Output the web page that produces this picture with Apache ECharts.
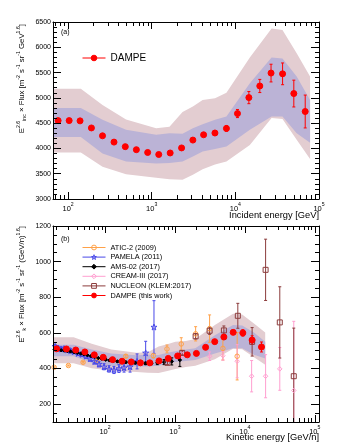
<!DOCTYPE html>
<html>
<head>
<meta charset="utf-8">
<title>DAMPE helium</title>
<script src="https://cdn.jsdelivr.net/npm/echarts@6.0.0/dist/echarts.min.js"></script>
<style>
  html, body { margin: 0; padding: 0; background: #fff; }
  #main { width: 355px; height: 445px; }
</style>
</head>
<body>
<div id="main"></div>
<script>
// ---------- panel (a): E_inc^2.6 x flux vs incident energy ----------
let aEnergy = [76, 103, 139, 190, 258, 354, 483, 655, 894, 1213, 1661, 2275, 3104, 4170, 5700, 7820, 10600, 14500, 19600, 26700, 36700, 50000, 68400]
let aFlux   = [4550, 4550, 4545, 4405, 4250, 4125, 4035, 3975, 3920, 3880, 3910, 4010, 4165, 4270, 4305, 4395, 4690, 5005, 5235, 5490, 5475, 5085, 4730]
let aStat   = [10, 10, 10, 10, 10, 10, 12, 12, 14, 16, 18, 22, 26, 32, 40, 55, 80, 120, 130, 175, 215, 265, 325]

// systematic bands (outer = total, inner = w/o hadronic model)
let aBandE   = [66, 142, 258, 493, 1130, 1630, 2335, 3105, 4060, 5710, 7820, 14900, 27100, 36600, 54100, 78200]
let aOuterHi = [5180, 5180, 4860, 4570, 4400, 4430, 4720, 4830, 4960, 4990, 5100, 5800, 6370, 6340, 5880, 5420]
let aOuterLo = [3920, 3920, 3640, 3490, 3420, 3390, 3380, 3480, 3590, 3680, 3740, 4070, 4600, 4580, 4170, 3790]
let aInnerHi = [4800, 4800, 4565, 4370, 4270, 4300, 4290, 4400, 4480, 4565, 4630, 5290, 5800, 5780, 5420, 4960]
let aInnerLo = [4225, 4225, 3900, 3740, 3700, 3710, 3740, 3840, 3940, 3990, 4040, 4370, 4630, 4630, 4300, 4110]

// ---------- panel (b): E_k^2.6 x flux vs kinetic energy per nucleon ----------
let bEnergy = [20.3, 28.0, 38.1, 51.4, 70.1, 94.2, 128, 175, 237, 321, 437, 591, 802, 1093, 1500, 2027, 2746, 3706, 5012, 6808, 9354, 12700, 17300]
let bFlux   = [511, 510, 504, 493, 477, 463, 450, 441, 437, 432, 432, 443, 457, 471, 477, 485, 519, 551, 577, 603, 600, 560, 521]
let bStat   = [1, 1, 1, 1, 1, 1, 1, 1, 1, 2, 2, 2, 3, 3, 4, 5, 6, 8, 10, 12, 18, 24, 28]

let bBandE   = [18, 35.5, 64.5, 123, 283, 408, 584, 776, 1015, 1428, 1955, 3725, 6775, 9150, 13500, 19550]
let bOuterHi = [575, 575, 539, 507, 488, 492, 524, 536, 551, 554, 566, 644, 707, 704, 653, 602]
let bOuterLo = [430, 430, 402, 387, 380, 376, 375, 386, 398, 408, 415, 452, 511, 508, 463, 421]
let bInnerHi = [533, 533, 507, 485, 474, 477, 476, 488, 497, 507, 514, 587, 644, 642, 602, 551]
let bInnerLo = [469, 469, 433, 415, 411, 412, 415, 426, 437, 443, 448, 485, 514, 514, 477, 456]

let aticE   = [18.7, 29.9, 48.5, 77.6, 198, 490, 769, 1230, 1976, 3130, 4850, 7760]
let aticF   = [407, 417, 435, 446, 469, 472, 510, 538, 595, 624, 513, 469]
let aticErr = [3, 3, 4, 5, 8, 12, 22, 35, 40, 77, 65, 133]

let pamE   = [19.3, 21.3, 23.5, 25.9, 28.7, 32.1, 36.1, 41.1, 46.9, 53.5, 61.1, 70.8, 82.1, 96.8, 114, 134, 158, 187, 228, 287, 381, 501]
let pamF   = [525, 515, 510, 512, 505, 500, 495, 485, 480, 470, 455, 440, 425, 410, 398, 392, 400, 405, 410, 440, 488, 633]
let pamErr = [10, 10, 10, 10, 11, 11, 12, 12, 13, 13, 14, 15, 16, 17, 18, 20, 22, 25, 30, 42, 65, 148]

let amsE   = [19, 21, 23.5, 26, 29, 32, 36, 40, 45, 50, 56, 63, 71, 80, 90, 102, 116, 132, 150, 172, 198, 230, 270, 320, 380, 460, 560, 700, 900, 1175]
let amsF   = [508, 506, 503, 501, 498, 496, 492, 488, 484, 480, 475, 470, 465, 459, 455, 450, 446, 443, 440, 438, 436, 434, 432, 430, 429, 430, 432, 436, 440, 448]
let amsErr = [3, 3, 3, 3, 3, 3, 3, 3, 3, 3, 3, 3, 3, 3, 3, 4, 4, 4, 4, 5, 5, 5, 6, 6, 7, 8, 10, 14, 20, 36]

let creamE   = [1271, 3130, 4850, 7760, 12500, 19800, 31600, 50100]
let creamF   = [478, 469, 472, 441, 357, 357, 398, 277]
let creamErr = [20, 24, 25, 93, 88, 121, 120, 388]

let nucE   = [782, 1271, 1976, 3130, 5012, 7930, 12700, 19800, 31600, 50100]
let nucF   = [432, 488, 581, 612, 614, 696, 550, 954, 659, 357]
let nucErr = [10, 12, 15, 20, 25, 70, 80, 172, 200, 270]

// axis ticks
let aXMajor = [100, 1000, 10000, 100000]
let bXMajor = [100, 1000, 10000, 100000]
let aYMajor = [3000, 3500, 4000, 4500, 5000, 5500, 6000, 6500]
let bYMajor = [200, 400, 600, 800, 1000, 1200]

const FONT = '"Liberation Sans", Arial, Helvetica, sans-serif'
const OUTER = '#e3cdd1'
const INNER = '#bbb3d6'

let minorLog = function (lo, hi) {
  let out = []
  for (let d = 1; d <= 1e5; d *= 10) {
    for (let k = 2; k <= 9; k++) {
      if (k * d > lo && k * d < hi) out.push(k * d)
    }
  }
  return out
}
let minorLin = function (lo, hi, step, majorStep) {
  let out = []
  for (let v = lo; v < hi; v += step) {
    if (v > lo && v % majorStep !== 0) out.push(v)
  }
  return out
}

let zip3 = function (x, y, z) {
  return x.map(function (v, i) { return [v, y[i], z[i]] })
}

let supRich = {
  b: { fontSize: 7.5, fontFamily: FONT, color: '#000', lineHeight: 11, verticalAlign: 'bottom' },
  s: { fontSize: 5.2, fontFamily: FONT, color: '#000', lineHeight: 7, verticalAlign: 'top' }
}

// builds the four x axes (bottom / top, major / minor) of one frame
let xAxes = function (grid, min, max, major) {
  let base = { gridIndex: grid, type: 'log', min: min, max: max, splitLine: { show: false }, z: 5 }
  let minor = minorLog(min, max)
  return [
    Object.assign({}, base, {
      position: 'bottom',
      axisLine: { show: true, lineStyle: { color: '#000', width: 1 } },
      axisTick: { show: true, inside: true, length: 7, customValues: major, lineStyle: { color: '#000' } },
      axisLabel: {
        customValues: major, margin: 3,
        formatter: function (v) { return '{b|10}{s|' + Math.round(Math.log10(v)) + '}' },
        rich: supRich
      }
    }),
    Object.assign({}, base, {
      position: 'bottom',
      axisLine: { show: false },
      axisTick: { show: true, inside: true, length: 4, customValues: minor, lineStyle: { color: '#000' } },
      axisLabel: { show: false }
    }),
    Object.assign({}, base, {
      position: 'top',
      axisLine: { show: true, lineStyle: { color: '#000', width: 1 } },
      axisTick: { show: true, inside: true, length: 7, customValues: major, lineStyle: { color: '#000' } },
      axisLabel: { show: false }
    }),
    Object.assign({}, base, {
      position: 'top',
      axisLine: { show: false },
      axisTick: { show: true, inside: true, length: 4, customValues: minor, lineStyle: { color: '#000' } },
      axisLabel: { show: false }
    })
  ]
}

let yAxes = function (grid, min, max, major, minor) {
  let base = { gridIndex: grid, type: 'value', min: min, max: max, splitLine: { show: false }, z: 5 }
  return [
    Object.assign({}, base, {
      position: 'left',
      axisLine: { show: true, lineStyle: { color: '#000', width: 1 } },
      axisTick: { show: true, inside: true, length: 8, customValues: major, lineStyle: { color: '#000' } },
      axisLabel: {
        customValues: major, margin: 2, fontSize: 7, fontFamily: FONT, color: '#000',
        formatter: function (v) { return String(v) }
      }
    }),
    Object.assign({}, base, {
      position: 'left',
      axisLine: { show: false },
      axisTick: { show: true, inside: true, length: 4, customValues: minor, lineStyle: { color: '#000' } },
      axisLabel: { show: false }
    }),
    Object.assign({}, base, {
      position: 'right',
      axisLine: { show: true, lineStyle: { color: '#000', width: 1 } },
      axisTick: { show: true, inside: true, length: 8, customValues: major, lineStyle: { color: '#000' } },
      axisLabel: { show: false }
    }),
    Object.assign({}, base, {
      position: 'right',
      axisLine: { show: false },
      axisTick: { show: true, inside: true, length: 4, customValues: minor, lineStyle: { color: '#000' } },
      axisLabel: { show: false }
    })
  ]
}

// one polygon for a band: upper edge, then lower edge backwards
let bandRender = function (color) {
  return function (params, api) {
    if (params.dataIndexInside !== 0) return null
    let up = [], dn = []
    for (let i = 0; i < params.dataInsideLength; i++) {
      up.push(api.coord([api.value(0, i), api.value(1, i)]))
      dn.push(api.coord([api.value(0, i), api.value(2, i)]))
    }
    return { type: 'polygon', shape: { points: up.concat(dn.reverse()) }, style: { fill: color } }
  }
}

let errRender = function (color) {
  return function (params, api) {
    let x = api.value(0), y = api.value(1), e = api.value(2)
    let hi = api.coord([x, y + e])
    let lo = api.coord([x, y - e])
    let c = 1.5
    let st = { stroke: color, lineWidth: 1 }
    return {
      type: 'group',
      children: [
        { type: 'line', shape: { x1: hi[0], y1: hi[1], x2: lo[0], y2: lo[1] }, style: st },
        { type: 'line', shape: { x1: hi[0] - c, y1: hi[1], x2: hi[0] + c, y2: hi[1] }, style: st },
        { type: 'line', shape: { x1: lo[0] - c, y1: lo[1], x2: lo[0] + c, y2: lo[1] }, style: st }
      ]
    }
  }
}

let band = function (xi, yi, e, hi, lo, color) {
  return {
    type: 'custom', xAxisIndex: xi, yAxisIndex: yi, silent: true,
    data: zip3(e, hi, lo), encode: { x: 0, y: 1 },
    renderItem: bandRender(color), clip: true
  }
}
let errs = function (xi, yi, e, v, err, color) {
  return {
    type: 'custom', xAxisIndex: xi, yAxisIndex: yi, silent: true,
    data: zip3(e, v, err), encode: { x: 0, y: 1 },
    renderItem: errRender(color), clip: true
  }
}
let points = function (name, xi, yi, e, v, symbol, size, color, fill) {
  return {
    name: name, type: 'line', xAxisIndex: xi, yAxisIndex: yi,
    data: e.map(function (x, i) { return [x, v[i]] }),
    symbol: symbol, symbolSize: size, showSymbol: true,
    lineStyle: { width: 0, color: color },
    itemStyle: { color: fill, borderColor: color, borderWidth: 1 },
    emphasis: { disabled: true },
    clip: true
  }
}

const STAR = 'path://M50,2 L61,36 L97,36 L68,57 L79,92 L50,71 L21,92 L32,57 L3,36 L39,36 Z'
const NONE = 'rgba(255,255,255,0)'

let dom = document.getElementById('main')
let myChart = echarts.init(dom)

let titleRich = {
  sup: { fontSize: 5.2, fontFamily: FONT, fill: '#000', verticalAlign: 'top', lineHeight: 5 },
  sub: { fontSize: 5.2, fontFamily: FONT, fill: '#000', verticalAlign: 'bottom', lineHeight: 5 },
  t: { fontSize: 7.8, fontFamily: FONT, fill: '#000', lineHeight: 11 }
}

let option = {
  animation: false,
  textStyle: { fontFamily: FONT },
  grid: [
    { left: 53, top: 22, width: 266, height: 177 },
    { left: 53, top: 226, width: 266, height: 196 }
  ],
  xAxis: xAxes(0, 66, 100000, aXMajor).concat(xAxes(1, 18, 115000, bXMajor)),
  yAxis: yAxes(0, 3000, 6500, aYMajor, minorLin(3000, 6500, 100, 500))
    .concat(yAxes(1, 100, 1200, bYMajor, minorLin(100, 1200, 50, 200))),
  legend: [
    {
      data: ['DAMPE'], left: 77, top: 48, itemWidth: 23, itemHeight: 7,
      lineStyle: { width: 1 }, itemStyle: { borderWidth: 1 },
      textStyle: { fontSize: 10, fontFamily: FONT, color: '#000' }, selectedMode: false
    },
    {
      data: ['ATIC-2 (2009)', 'PAMELA (2011)', 'AMS-02 (2017)', 'CREAM-III (2017)', 'NUCLEON (KLEM:2017)', 'DAMPE (this work)'],
      orient: 'vertical', left: 77, top: 239, itemWidth: 23, itemHeight: 6, itemGap: 2.6,
      lineStyle: { width: 1 }, itemStyle: { borderWidth: 1 },
      textStyle: { fontSize: 7.3, fontFamily: FONT, color: '#000' }, selectedMode: false
    }
  ],
  graphic: [
    { type: 'text', left: 61, top: 29, style: { text: '(a)', font: '7px ' + FONT, fill: '#000' } },
    { type: 'text', left: 61, top: 236, style: { text: '(b)', font: '7px ' + FONT, fill: '#000' } },
    { type: 'text', right: 36, top: 211, style: { text: 'Incident energy [GeV]', font: '9.3px ' + FONT, fill: '#000' } },
    { type: 'text', right: 36, top: 433, style: { text: 'Kinetic energy [GeV/n]', font: '9.3px ' + FONT, fill: '#000' } },
    {
      type: 'text', x: 22, y: 24, rotation: Math.PI / 2,
      style: {
        text: '{t|E}{sup|2.6}{sub|inc}{t| × Flux [m}{sup|-2}{t| s}{sup|-1}{t| sr}{sup|-1}{t| GeV}{sup|1.6}{t|]}',
        rich: titleRich, align: 'right', verticalAlign: 'middle'
      }
    },
    {
      type: 'text', x: 22, y: 226, rotation: Math.PI / 2,
      style: {
        text: '{t|E}{sup|2.6}{sub|k}{t| × Flux [m}{sup|-2}{t| s}{sup|-1}{t| sr}{sup|-1}{t| (GeV/n)}{sup|1.6}{t|]}',
        rich: titleRich, align: 'right', verticalAlign: 'middle'
      }
    }
  ],
  series: [
    band(0, 0, aBandE, aOuterHi, aOuterLo, OUTER),
    band(0, 0, aBandE, aInnerHi, aInnerLo, INNER),
    errs(0, 0, aEnergy, aFlux, aStat, '#ff0000'),
    points('DAMPE', 0, 0, aEnergy, aFlux, 'circle', 6, '#ff0000', '#ff0000'),

    band(4, 4, bBandE, bOuterHi, bOuterLo, OUTER),
    band(4, 4, bBandE, bInnerHi, bInnerLo, INNER),
    errs(4, 4, aticE, aticF, aticErr, '#ffa148'),
    points('ATIC-2 (2009)', 4, 4, aticE, aticF, 'circle', 4.5, '#ffa148', NONE),
    errs(4, 4, pamE, pamF, pamErr, '#4848e8'),
    points('PAMELA (2011)', 4, 4, pamE, pamF, STAR, 6, '#4848e8', NONE),
    errs(4, 4, amsE, amsF, amsErr, '#000000'),
    points('AMS-02 (2017)', 4, 4, amsE, amsF, 'diamond', 3.5, '#000000', '#000000'),
    errs(4, 4, creamE, creamF, creamErr, '#ff9fd0'),
    points('CREAM-III (2017)', 4, 4, creamE, creamF, 'diamond', 4.5, '#ff9fd0', NONE),
    errs(4, 4, nucE, nucF, nucErr, '#8c3c3c'),
    points('NUCLEON (KLEM:2017)', 4, 4, nucE, nucF, 'rect', 5, '#8c3c3c', NONE),
    errs(4, 4, bEnergy, bFlux, bStat, '#ff0000'),
    points('DAMPE (this work)', 4, 4, bEnergy, bFlux, 'circle', 6, '#ff0000', '#ff0000')
  ]
}

myChart.setOption(option, true)

window.addEventListener('resize', function () {
  myChart.resize()
})
</script>
</body>
</html>
